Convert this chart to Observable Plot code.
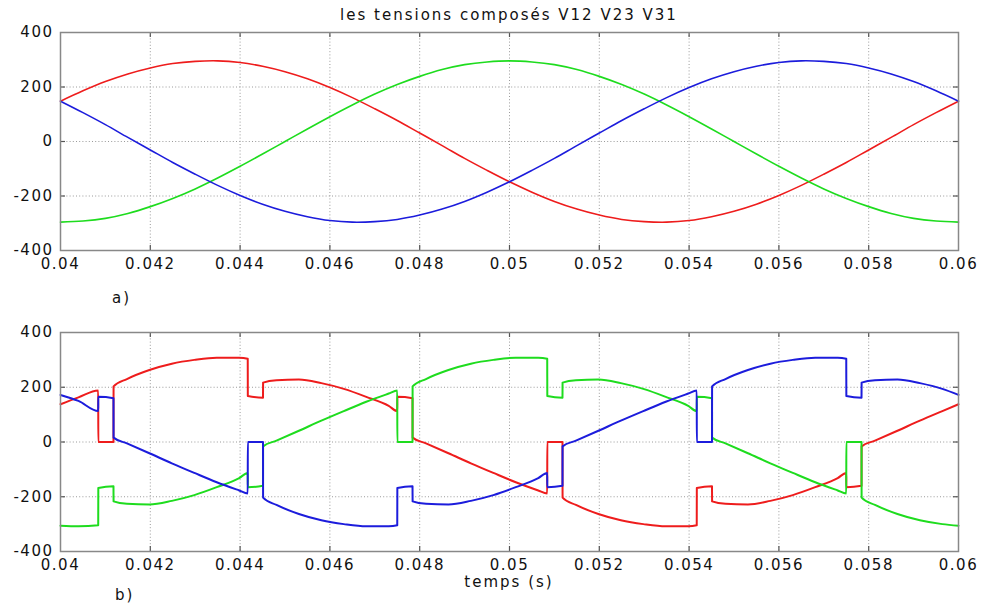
<!DOCTYPE html>
<html><head><meta charset="utf-8">
<script src="https://cdn.jsdelivr.net/npm/d3@7"></script>
<script src="https://cdn.jsdelivr.net/npm/@observablehq/plot@0.6"></script>
<style>
body{margin:0;background:#fff;}
#wrap{position:relative;width:983px;height:610px;overflow:hidden;background:#fff;font-family:"DejaVu Sans",sans-serif;color:#111;}
.lbl{position:absolute;font-size:15px;line-height:16px;letter-spacing:2px;white-space:nowrap;z-index:2;}
#p1,#p2{position:absolute;left:0;}
#p1{top:0}#p2{top:300px}
</style></head><body>
<div id="wrap">
 <div id="p1"></div><div id="p2"></div>
 <div class="lbl" style="left:60px;width:898px;top:7px;text-align:center">les tensions composés V12 V23 V31</div>
 <div class="lbl" style="left:112px;top:290px">a)</div>
 <div class="lbl" style="left:60px;width:898px;top:574px;text-align:center">temps (s)</div>
 <div class="lbl" style="left:115px;top:587px">b)</div>
</div>
<script>
// ---- tick labels
const xTicks = [0.04, 0.042, 0.044, 0.046, 0.048, 0.05, 0.052, 0.054, 0.056, 0.058, 0.06];
const yTicks = [-400, -200, 0, 200, 400];

// ---- panel a) : sinusoidal line voltages
const tA = [0.04, 0.0405, 0.041, 0.0415, 0.042, 0.0425, 0.043, 0.0435, 0.044, 0.0445, 0.045, 0.0455, 0.046, 0.0465, 0.047, 0.0475, 0.048, 0.0485, 0.049, 0.0495, 0.05, 0.0505, 0.051, 0.0515, 0.052, 0.0525, 0.053, 0.0535, 0.054, 0.0545, 0.055, 0.0555, 0.056, 0.0565, 0.057, 0.0575, 0.058, 0.0585, 0.059, 0.0595, 0.06];
const v12A = [148, 186, 220, 248, 270, 286, 294, 296, 290, 276, 256, 230, 198, 161, 120, 77, 31, -15, -62, -106, -148, -186, -220, -248, -270, -286, -294, -296, -290, -276, -256, -230, -198, -161, -120, -77, -31, 15, 62, 106, 148];
const v23A = [148, 106, 62, 15, -31, -77, -120, -161, -198, -230, -256, -276, -290, -296, -294, -286, -270, -248, -220, -186, -148, -106, -62, -15, 31, 77, 120, 161, 198, 230, 256, 276, 290, 296, 294, 286, 270, 248, 220, 186, 148];
const v31A = [-296, -292, -282, -264, -239, -209, -174, -134, -91, -46, 0, 46, 91, 134, 174, 209, 239, 264, 282, 292, 296, 292, 282, 264, 239, 209, 174, 134, 91, 46, 0, -46, -91, -134, -174, -209, -239, -264, -282, -292, -296];

// ---- panel b) : distorted line voltages with commutation notches
const tB = [0.04, 0.0404, 0.04084, 0.040842, 0.04118, 0.041182, 0.04148, 0.04198, 0.04248, 0.04298, 0.04348, 0.04398, 0.04417, 0.044172, 0.04451, 0.044512, 0.04481, 0.04531, 0.04581, 0.04631, 0.04681, 0.04731, 0.0475, 0.047502, 0.04784, 0.047842, 0.04814, 0.04864, 0.04914, 0.04964, 0.05014, 0.05064, 0.05084, 0.050842, 0.05118, 0.051182, 0.05148, 0.05198, 0.05248, 0.05298, 0.05348, 0.05398, 0.05417, 0.054172, 0.05451, 0.054512, 0.05481, 0.05531, 0.05581, 0.05631, 0.05681, 0.05731, 0.0575, 0.057502, 0.05784, 0.057842, 0.05814, 0.05864, 0.05914, 0.05964, 0.06];
const v12B = [138, 163, 188, 0, 0, 203, 230, 263, 286, 300, 308, 308, 304, 168, 162, 217, 226, 228, 215, 194, 165, 132, 113, 165, 160, 16, -5, -41, -78, -113, -147, -177, -188, 0, 0, -203, -230, -263, -286, -300, -308, -308, -304, -168, -162, -217, -226, -228, -215, -194, -165, -132, -113, -165, -160, -16, 5, 41, 78, 113, 138];
const v23B = [172, 150, 113, 165, 160, 16, -5, -41, -78, -113, -147, -177, -188, 0, 0, -203, -230, -263, -286, -300, -308, -308, -304, -168, -162, -217, -226, -228, -215, -194, -165, -132, -113, -165, -160, -16, 5, 41, 78, 113, 147, 177, 188, 0, 0, 203, 230, 263, 286, 300, 308, 308, 304, 168, 162, 217, 226, 228, 215, 194, 172];
const v31B = [-306, -308, -304, -168, -162, -217, -226, -228, -215, -194, -165, -132, -113, -165, -160, -16, 5, 41, 78, 113, 147, 177, 188, 0, 0, 203, 230, 263, 286, 300, 308, 308, 304, 168, 162, 217, 226, 228, 215, 194, 165, 132, 113, 165, 160, 16, -5, -41, -78, -113, -147, -177, -188, 0, 0, -203, -230, -263, -286, -300, -306];

const RED = "#ee1c1c", GREEN = "#1edc1e", BLUE = "#1c1cdc";

function panel(t, v12, v23, v31, mb, sw, curve) {
  const W = 983, H = 280, ml = 60, mr = 25, mt = 32;
  const fh = H - mt - mb, fw = W - ml - mr;
  const inner = xTicks.slice(1, -1), innerY = yTicks.slice(1, -1);
  return Plot.plot({
    width: W, height: H, marginLeft: ml, marginRight: mr, marginTop: mt, marginBottom: mb,
    style: {fontFamily: "DejaVu Sans, sans-serif", fontSize: "15px", letterSpacing: "1.5px", color: "#111", background: "transparent", overflow: "visible"},
    x: {domain: [0.04, 0.06]},
    y: {domain: [-400, 400]},
    marks: [
      Plot.ruleX(inner, {stroke: "#9a9a9a", strokeDasharray: "1,2.2", strokeWidth: 1}),
      Plot.ruleY(innerY, {stroke: "#9a9a9a", strokeDasharray: "1,2.2", strokeWidth: 1}),
      Plot.ruleX(inner, {stroke: "#555", strokeWidth: 1.2, insetTop: fh - 5}),
      Plot.ruleX(inner, {stroke: "#555", strokeWidth: 1.2, insetBottom: fh - 5}),
      Plot.ruleY(innerY, {stroke: "#555", strokeWidth: 1.2, insetRight: fw - 5}),
      Plot.ruleY(innerY, {stroke: "#555", strokeWidth: 1.2, insetLeft: fw - 5}),
      Plot.lineY(v12, {x: t, stroke: RED, strokeWidth: sw, curve}),
      Plot.lineY(v31, {x: t, stroke: GREEN, strokeWidth: sw, curve}),
      Plot.lineY(v23, {x: t, stroke: BLUE, strokeWidth: sw, curve}),
      Plot.frame({stroke: "#888", strokeWidth: 1.5}),
      Plot.axisX(xTicks, {tickSize: 0, tickPadding: 8, tickFormat: d => String(d), fontSize: 15, label: null}),
      Plot.axisY(yTicks, {tickSize: 0, tickPadding: 7, tickFormat: d => String(d), fontSize: 15, label: null})
    ]
  });
}

document.getElementById("p1").appendChild(panel(tA, v12A, v23A, v31A, 30, 1.6, "catmull-rom"));
document.getElementById("p2").appendChild(panel(tB, v12B, v23B, v31B, 29, 2, "monotone-x"));
</script>
</body></html>
